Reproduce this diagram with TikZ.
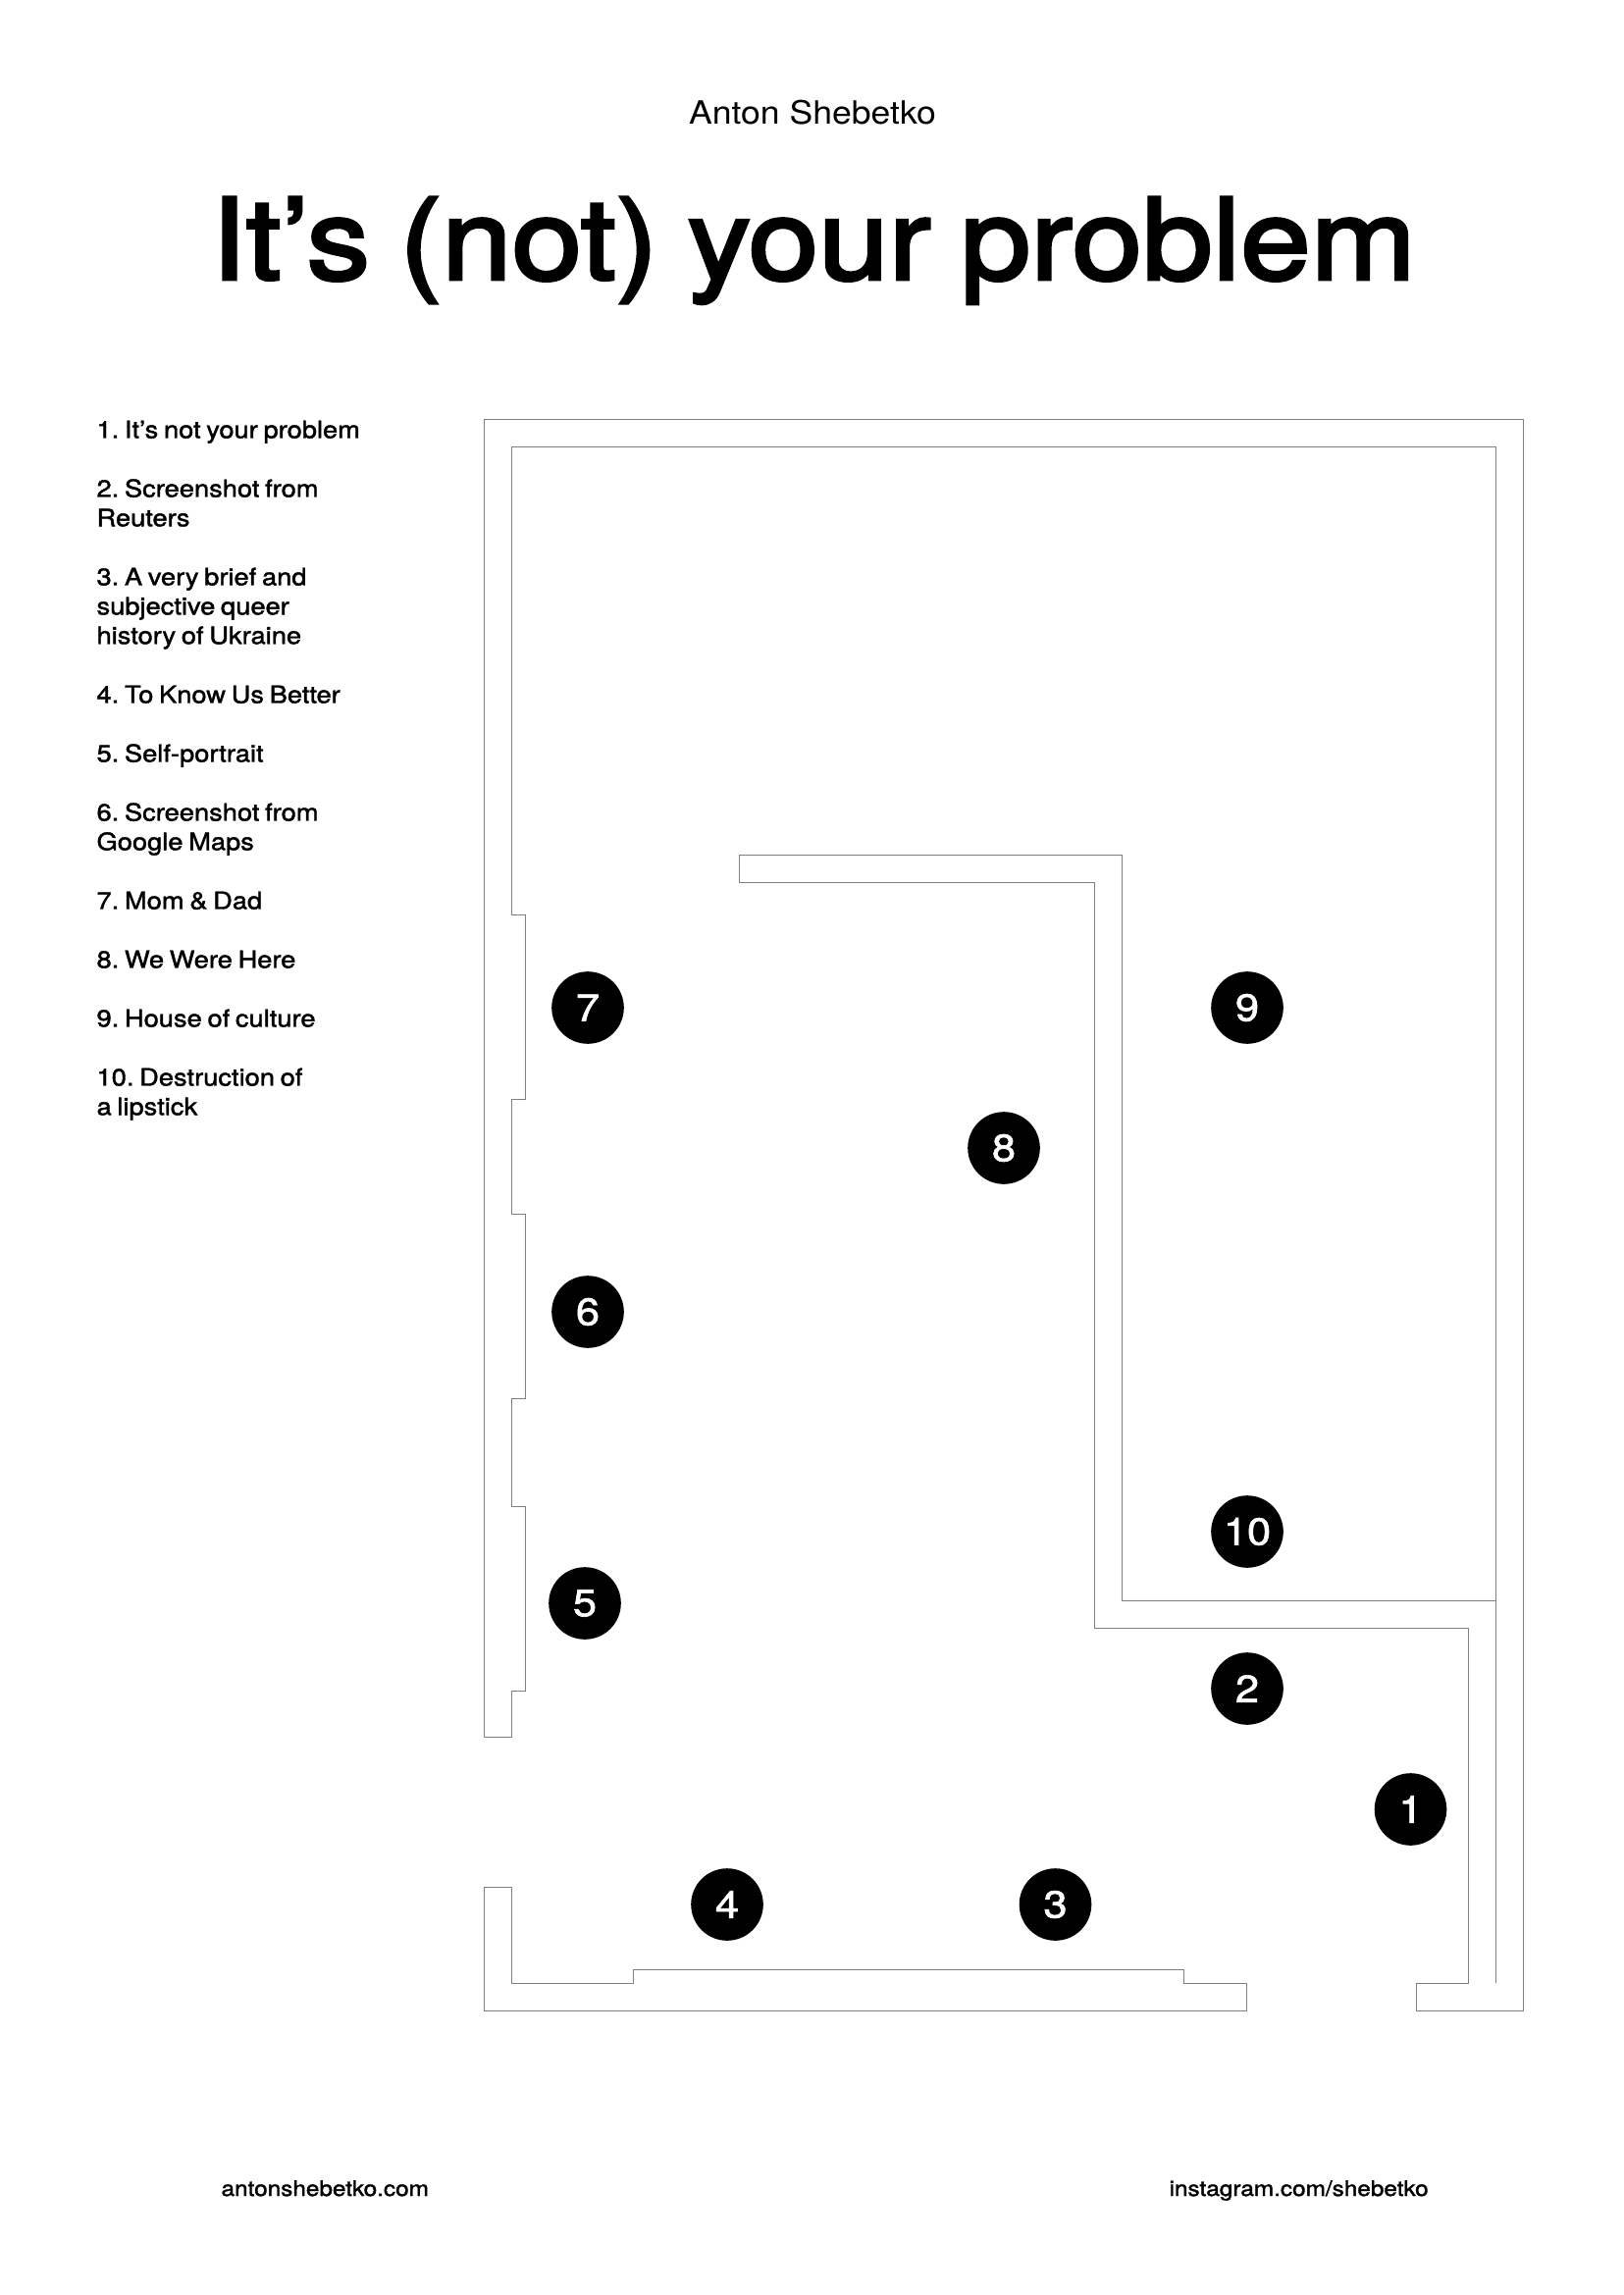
\documentclass[tikz,border=0pt]{standalone}
\usepackage{fontspec}
\setmainfont[FakeStretch=1.09]{TeX Gyre Heros}
\newfontfamily\titlefont[FakeBold=2.8,FakeStretch=1.12,WordSpace=0.85]{TeX Gyre Heros}
\newfontfamily\mediumfont[FakeBold=1.6,FakeStretch=1.12,WordSpace=0.75]{TeX Gyre Heros}
\usetikzlibrary{positioning}
\definecolor{wallgray}{gray}{0.5}
\tikzset{
  wall/.style={draw=wallgray,line width=0.36pt,line join=miter},
  marker/.style={circle,fill=black,text=white,inner sep=0pt,minimum size=26.6pt,
    font=\mediumfont\fontsize{14}{14}\selectfont},
  item/.style={anchor=north west,inner sep=0pt,align=left,
    font=\mediumfont\frenchspacing\fontsize{8.8}{10.8}\selectfont},
  link/.style={anchor=base west,inner sep=0pt,
    font=\mediumfont\frenchspacing\fontsize{7.85}{10}\selectfont}
}
\begin{document}
\begin{tikzpicture}[x=0.127mm,y=-0.127mm]
  \useasboundingbox (0,0) rectangle (1654,2339);
  \node[inner sep=0pt,anchor=base,font=\fontsize{11.8}{14}\selectfont] (author) at (828,126.7) {Anton Shebetko};
  \node[inner sep=0pt,anchor=base,font=\titlefont\fontsize{41.5}{48}\selectfont] (title) at (829,284.7) {It’s (not) your problem};
  % legend
  \foreach \n/\y/\txt in {1/446/{1. It’s not your problem},
      2/506/{2. Screenshot from\\Reuters},
      3/596/{3. A very brief and\\subjective queer\\history of Ukraine},
      4/716/{4. To Know Us Better},
      5/776/{5. Self-portrait},
      6/836/{6. Screenshot from\\Google Maps},
      7/926/{7. Mom \& Dad},
      8/986/{8. We Were Here},
      9/1046/{9. House of culture},
      10/1106/{10. Destruction of\\a lipstick}}
    \node[item] (item\n) at (98,\y-21) {\strut\txt};
  % walls
  \draw[wall] (493.5,1770) -- (493.5,428) -- (1552,428) -- (1552,2049) -- (1443,2049)
    -- (1443,2021) -- (1496,2021) -- (1496,1659) -- (1115,1659) -- (1115,899)
    -- (753.5,899) -- (753.5,871) -- (1143,871) -- (1143,1631) -- (1524,1631)
    -- (1524,456) -- (521.5,456) -- (521.5,932) -- (535.5,932) -- (535.5,1120) -- (521.5,1120)
    -- (521.5,1237) -- (535.5,1237) -- (535.5,1425) -- (521.5,1425) -- (521.5,1535) -- (535.5,1535)
    -- (535.5,1723) -- (521.5,1723) -- (521.5,1770) -- cycle;
  \draw[wall] (1524,1631) -- (1524,2021);
  \draw[wall] (493.5,1923) -- (521.5,1923) -- (521.5,2021) -- (645,2021) -- (645,2007)
    -- (1206,2007) -- (1206,2021) -- (1270,2021) -- (1270,2049) -- (493.5,2049) -- cycle;
  % numbered works
  \node[marker] (m1) at (1437.5,1844) {1};
  \node[marker] (m2) at (1271,1721) {2};
  \node[marker] (m3) at (1075.5,1941) {3};
  \node[marker] (m4) at (741,1941) {4};
  \node[marker] (m5) at (596,1634) {5};
  \node[marker] (m6) at (599,1337) {6};
  \node[marker] (m7) at (599,1027) {7};
  \node[marker] (m8) at (1023,1170) {8};
  \node[marker] (m9) at (1271,1027) {9};
  \node[marker] (m10) at (1271,1561) {10};
  \node[link] (web) at (225,2238) {antonshebetko.com};
  \node[link] (insta) at (1191,2238) {instagram.com/shebetko};
\end{tikzpicture}
\end{document}
